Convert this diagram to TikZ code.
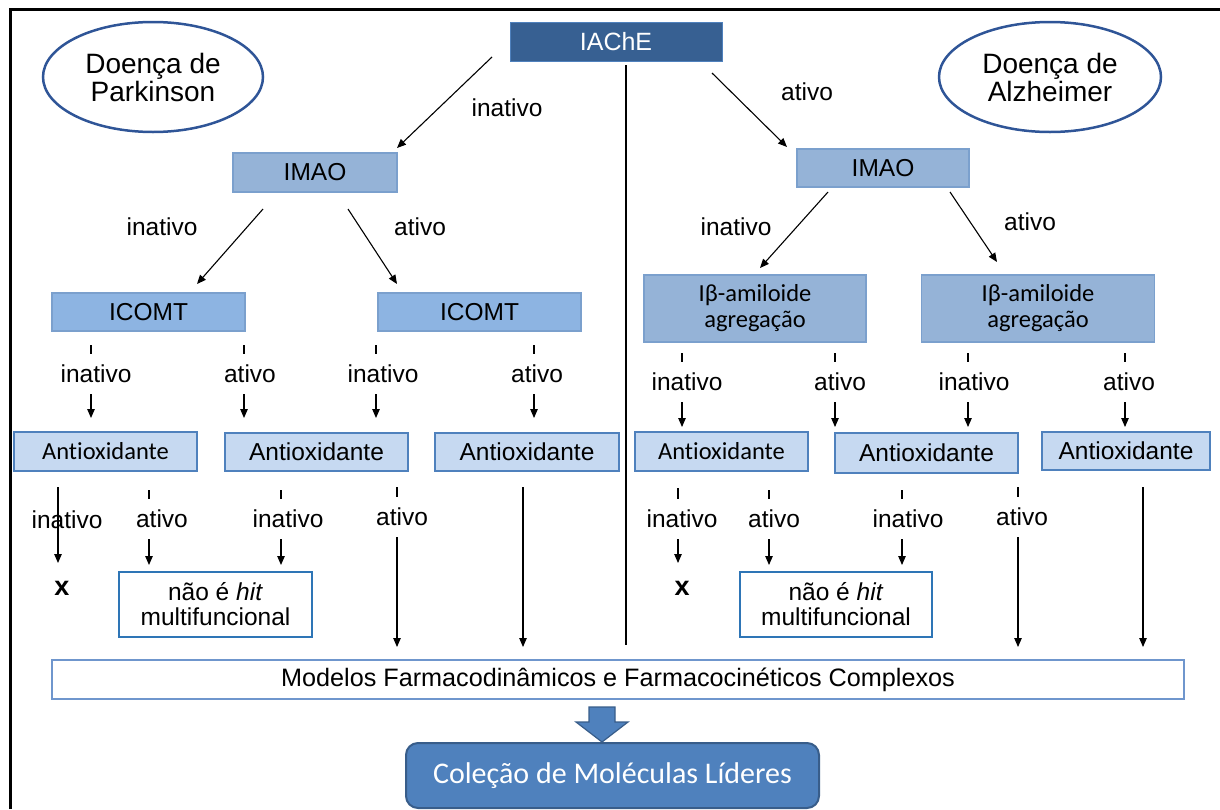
\documentclass[tikz,border=0pt]{standalone}
\usepackage{fontspec}
\setmainfont{Liberation Sans}
\newfontfamily\calib[Ligatures=CommonOff]{Carlito}
\usetikzlibrary{arrows.meta,shapes.geometric}
\definecolor{dkblue}{HTML}{376092}
\definecolor{midblue}{HTML}{95B3D7}
\definecolor{icomtc}{HTML}{8DB4E2}
\definecolor{lightb}{HTML}{C6D9F1}
\definecolor{edgeb}{HTML}{4F81BD}
\definecolor{ellc}{HTML}{2F5597}
\definecolor{hitc}{HTML}{2E75B6}
\definecolor{accentc}{HTML}{4F81BD}
\definecolor{accentd}{HTML}{385D8A}
\definecolor{modc}{HTML}{6F96CD}
\begin{document}
\begin{tikzpicture}[x=1pt,y=-1pt,
  txt/.style={font=\fontsize{24.5}{28}\selectfont},
  box/.style={draw, rectangle, inner sep=0pt, align=center, txt},
  darkbox/.style={box, fill=dkblue, draw=edgeb, line width=1pt, text=white},
  midbox/.style={box, fill=midblue, draw=edgeb!75, line width=1.2pt},
  comtbox/.style={box, fill=icomtc, draw=edgeb!75, line width=1.2pt},
  antibox/.style={box, fill=lightb, draw=edgeb, line width=2pt},
  calibfont/.style={font=\calib\fontsize{24.5}{26}\selectfont},
  hitbox/.style={box, fill=white, draw=hitc, line width=2.5pt, font=\fontsize{24.5}{25}\selectfont},
  disease/.style={ellipse, draw=ellc, line width=2.5pt, inner sep=0pt, align=center, font=\fontsize{28}{28}\selectfont},
  lab/.style={txt, fill=white, inner xsep=3pt, inner ysep=0pt, minimum height=40pt},
  plainlab/.style={txt, inner sep=0pt},
  arr/.style={line width=1.1pt, -{Triangle[length=9pt,width=7.5pt]}},
  xmark/.style={font=\bfseries\fontsize{27}{27}\selectfont, inner sep=0pt}
]
\useasboundingbox (0,0) rectangle (1220,809);

% frame
\coordinate (fa) at (10.5,809);
\coordinate (fb) at (10.5,9.5);
\coordinate (fc) at (1220,9.5);
\draw[line width=3pt] (fa) -- (fb) -- (fc);

% divider
\coordinate (dt) at (626,65);
\coordinate (db) at (626,645);
\draw[line width=1.1pt] (dt) -- (db);

% ellipses
\node[disease, minimum width=220, minimum height=110] (pd) at (153,77) {Doença de\\Parkinson};
\node[disease, minimum width=222, minimum height=110] (ad) at (1050,77) {Doença de\\Alzheimer};

% main boxes
\node[darkbox, minimum width=212, minimum height=39, font=\fontsize{25}{28}\selectfont] (ache) at (616,41.5) {IAChE};
\node[midbox, minimum width=164, minimum height=39] (imaoL) at (315,172.5) {IMAO};
\node[midbox, minimum width=172, minimum height=38] (imaoR) at (883,168) {IMAO};
\node[comtbox, minimum width=193, minimum height=38] (comtL) at (148.5,312) {ICOMT};
\node[comtbox, minimum width=203, minimum height=38] (comtR) at (479.5,312) {ICOMT};
\node[midbox, calibfont, minimum width=222, minimum height=67] (abL) at (755,308.5) {Iβ-amiloide\\agregação};
\node[midbox, calibfont, minimum width=233, minimum height=67] (abR) at (1038,308.5) {Iβ-amiloide\\agregação};

\node[antibox, calibfont, minimum width=183, minimum height=39] (aL1) at (105.5,451.5) {Antioxidante};
\node[antibox, minimum width=183, minimum height=38] (aL2) at (316.5,451.5) {Antioxidante};
\node[antibox, minimum width=184, minimum height=38] (aL3) at (527,451.5) {Antioxidante};
\node[antibox, calibfont, minimum width=173, minimum height=39] (aR1) at (721.5,451.5) {Antioxidante};
\node[antibox, minimum width=183, minimum height=40] (aR2) at (926.5,453) {Antioxidante};
\node[antibox, minimum width=168, minimum height=38] (aR3) at (1126,451) {Antioxidante};

\node[hitbox, minimum width=193, minimum height=65] (hL) at (215.5,604.5) {não é \textit{hit}\\multifuncional};
\node[hitbox, minimum width=192, minimum height=65] (hR) at (836,604.5) {não é \textit{hit}\\multifuncional};

\node[xmark] (xL) at (62,588) {x};
\node[xmark] (xR) at (682,588) {x};

\node[box, fill=white, draw=modc, line width=2.5pt, minimum width=1132, minimum height=39, font=\fontsize{25.2}{28}\selectfont] (mod) at (618,679.5) {Modelos Farmacodinâmicos e Farmacocinéticos Complexos};

\node[box, rounded corners=12pt, fill=accentc, draw=accentd, line width=2pt, text=white, font=\calib\fontsize{30}{30}\selectfont, minimum width=413, minimum height=65] (col) at (612.5,775.5) {Coleção de Moléculas Líderes};

% block arrow
\fill[accentc, draw=accentd, line width=1.2pt] (589,707) -- (615,707) -- (615,722) -- (628,722) -- (602,742) -- (576,722) -- (589,722) -- cycle;

% diagonal connectors
\coordinate (d1s) at (492,57);  \coordinate (d1e) at (397,148);
\coordinate (d2s) at (712,73);  \coordinate (d2e) at (787,147);
\coordinate (d3s) at (263,209); \coordinate (d3e) at (197,284);
\coordinate (d4s) at (348,209); \coordinate (d4e) at (397,284);
\coordinate (d5s) at (828,192); \coordinate (d5e) at (760,268);
\coordinate (d6s) at (950,192); \coordinate (d6e) at (997,262);
\foreach \n in {d1,d2,d3,d4,d5,d6} \draw[arr] (\n s) -- (\n e);

% vertical connectors
\foreach \n/\x/\a/\b in {
  p1/91/345/418, p2/244/345/418, p3/376/345/418, p4/534/345/418,
  q1/682/353/427, q2/835/353/427, q3/968/353/427, q4/1125/353/427,
  s1/58/487/563, s2/149/490/565, s3/281/490/565, s4/397/487/647, s5/523/487/647,
  t1/678/488/563, t2/769/490/565, t3/902/490/565, t4/1018/487/647, t5/1143/487/647}
{
  \coordinate (\n s) at (\x,\a);
  \coordinate (\n e) at (\x,\b);
  \draw[arr] (\n s) -- (\n e);
}

% labels
\node[plainlab] (l1) at (507,108) {inativo};
\node[plainlab] (l2) at (807,92) {ativo};
\node[plainlab] (l3) at (162,227) {inativo};
\node[plainlab] (l4) at (420,227) {ativo};
\node[plainlab] (l5) at (736,227) {inativo};
\node[plainlab] (l6) at (1030,222) {ativo};
\node[plainlab] (ls1) at (67,520) {inativo};

\foreach \n/\x/\y/\t in {
  lp1/96/374/inativo, lp2/250/374/ativo, lp3/383/374/inativo, lp4/537/374/ativo,
  lq1/687/382/inativo, lq2/840/382/ativo, lq3/974/382/inativo, lq4/1129/382/ativo,
  ls2/162/519/ativo, ls3/288/519/inativo, ls4/402/517/ativo,
  lt1/682/519/inativo, lt2/774/519/ativo, lt3/908/519/inativo, lt4/1022/517/ativo}
{
  \node[lab] (\n) at (\x,\y) {\t};
}
\end{tikzpicture}
\end{document}
